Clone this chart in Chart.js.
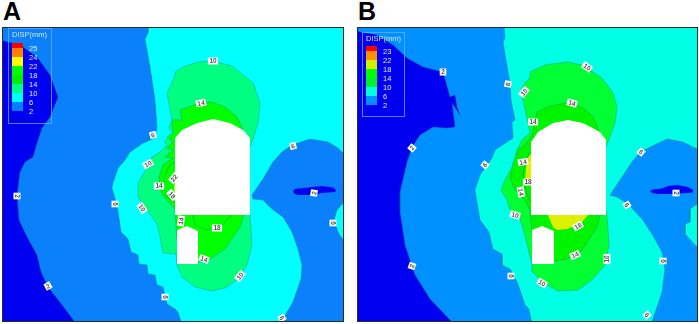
<!DOCTYPE html>
<html>
<head>
<meta charset="utf-8">
<title>DISP contours</title>
<script src="https://cdn.jsdelivr.net/npm/chart.js@4"></script>
<style>
  html, body { margin: 0; padding: 0; background: #fff; width: 699px; height: 324px; overflow: hidden; }
  .panel { position: absolute; outline: 1.5px solid #2b2b2b; }
  .letter { position: absolute; font: bold 25px "Liberation Sans", Arial, sans-serif; color: #000; line-height: 1; }
</style>
</head>
<body>
<div class="letter" style="left:3px;top:-1px">A</div>
<div class="letter" style="left:358px;top:-1px">B</div>
<canvas class="panel" id="chartA" width="340" height="293" style="left:3px;top:28px"></canvas>
<canvas class="panel" id="chartB" width="339" height="293" style="left:358px;top:28px"></canvas>
<script>
// contour outlines, [x, y] in sheet units
const a_disp2 = [[0,25],[0,40],[20,45],[37,57],[50,75],[58,97],[50,117],[42,128],[37,143],[33,157],[25,162],[20,172],[17,195],[19,220],[27,237],[37,255],[41,272],[48,287],[62,305],[74,321],[76,325],[347,325],[347,25]];
const a_disp6 = [[148,25],[148,33],[145,39],[150,67],[155,100],[157,127],[155,138],[143,143],[130,152],[125,160],[118,168],[113,183],[112,188],[117,205],[121,232],[128,239],[131,252],[138,255],[139,264],[147,265],[148,274],[155,275],[157,285],[163,287],[167,304],[175,309],[178,312],[182,325],[347,325],[347,25]];
const a_right2 = [[273,162],[282,152],[292,145],[310,139],[328,142],[338,148],[347,157],[347,203],[343,203],[337,210],[334,220],[338,232],[343,240],[347,240],[347,325],[280,325],[287,312],[293,302],[301,279],[302,265],[298,249],[292,232],[283,217],[272,209],[263,200],[253,199],[252,195],[263,179]];
const a_blob = [[293,191],[295,189],[298,188.5],[308,187.5],[322,186],[333,187.5],[336,190],[335,192],[322,193],[313,195],[298,195],[294,193.5]];
const a_disp10 = [[175,72],[183,67],[198,62],[213,61],[232,66],[253,83],[260,103],[258,123],[252,142],[248,150],[248,205],[250,215],[252,245],[247,265],[238,279],[225,288],[212,291],[195,287],[182,277],[177,265],[176,254],[163,253],[160,237],[157,224],[150,214],[147,210],[138,197],[138,183],[147,168],[152,157],[160,152],[167,145],[164,142],[173,133],[169,128],[172,120],[167,93],[175,76]];
const a_disp14 = [[180,110],[197,104],[212,102],[225,107],[237,117],[242,128],[247,150],[247,205],[244,215],[240,227],[225,249],[210,259],[198,262],[177,240],[175,209],[165,198],[160,190],[159,177],[163,165],[173,158],[165,157],[173,150],[167,148],[173,142],[167,137],[173,133],[172,120],[182,120]];
const a_disp18 = [[192,212],[195,225],[207,230],[222,225],[235,212]];
const a_left18 = [[178,160],[170,165],[165,175],[163,188],[168,198],[178,205]];
const a_left22 = [[177,178],[175,181],[174,188],[175,194],[177,194]];
const a_tunnel = [[175,215],[175,138],[182,130],[197,123],[213,119],[230,123],[243,130],[250,138],[250,215]];
const a_adit = [[177,230],[187,226],[198,231],[198,264],[177,264]];

const b_disp2 = [[355,25],[355,31],[377,35],[393,45],[407,58],[423,67],[443,72],[450,97],[455,95],[457,107],[460,115],[452,103],[455,127],[447,128],[433,127],[420,135],[412,147],[407,162],[400,192],[400,212],[405,245],[415,275],[430,299],[451,321],[455,325],[701,325],[701,25]];
const b_disp6 = [[504,25],[505,38],[503,42],[510,83],[511,100],[515,120],[512,122],[513,138],[495,150],[492,158],[480,175],[475,190],[480,220],[489,232],[493,249],[502,254],[502,265],[510,269],[518,284],[525,305],[529,309],[532,325],[701,325],[701,25]];
const b_right2 = [[632,162],[640,152],[667,139],[683,142],[701,151],[701,204],[697,204],[690,209],[690,222],[685,224],[685,234],[697,247],[701,247],[701,325],[651,325],[662,292],[665,269],[662,252],[652,234],[642,219],[628,204],[617,197],[610,195],[622,177]];
const b_blob = [[650,191],[653,189.5],[662,188.5],[668,186],[677,185],[688,187],[693,190],[693,192.5],[672,194],[658,194],[652,193]];
const b_disp10 = [[530,72],[545,65],[567,62],[582,65],[602,78],[613,93],[617,107],[615,123],[608,142],[604,150],[604,205],[607,215],[609,245],[605,265],[593,279],[578,290],[558,291],[542,282],[533,272],[532,264],[526,240],[525,235],[520,219],[510,210],[507,200],[501,190],[505,180],[515,162],[517,150],[522,140],[530,133],[523,100],[520,92],[525,83],[530,78]];
const b_disp14 = [[537,112],[550,106],[567,103],[582,107],[593,117],[598,128],[603,145],[603,205],[600,215],[597,227],[582,250],[567,259],[553,261],[533,240],[530,210],[525,200],[515,190],[510,178],[513,163],[518,150],[525,145],[532,135]];
const b_disp22 = [[547,213],[553,227],[557,230],[567,229],[580,224],[590,213]];
const b_left18 = [[533,150],[526,158],[523,175],[527,195],[533,205]];
const b_left22 = [[532,152],[528,158],[526,168],[525,182],[532,184]];
const b_tunnel = [[531,215],[531,142],[538,132],[553,123],[568,120],[583,123],[600,132],[606,140],[606,215]];
const b_adit = [[532,230],[542,226],[554,231],[554,264],[532,264]];

// contour tags: text, x, y, angle
const a_tags = [["10",213,61,0],["14",201,103,-10],["6",293,146,-15],["6",153,135,-15],["10",148,164,-30],["14",159,186,0],["22",174,178,-50],["18",172,195,50],["2",17,196,90],["6",115,204,90],["10",142,208,55],["2",48,286,-30],["6",165,297,90],["14",181,221,-80],["18",217,228,0],["14",204,259,20],["10",240,276,-50],["6",282,318,60],["2",314,193,-80],["6",333,223,90]];
const b_tags = [["2",443,72,0],["6",508,84,-80],["10",524,92,-50],["2",412,148,-50],["10",587,67,35],["14",572,103,15],["14",533,122,0],["6",641,152,40],["6",485,165,-50],["10",515,215,15],["14",521,192,80],["2",412,266,-70],["6",511,276,90],["18",528,182,0],["14",523,162,-10],["2",676,193,90],["6",627,205,60],["18",578,226,-30],["14",575,255,-25],["10",607,259,-90],["10",542,283,30],["6",663,261,90],["6",647,315,50]];

const a_legendLabels = ["25","24","22","18","14","10","6","2"];
const a_legendColors = ["#ff0000","#ff8000","#ffff00","#00ff00","#00f000","#00ff80","#00ffff","#0080ff"];
const b_legendLabels = ["23","22","18","14","10","6","2"];
const b_legendColors = ["#ff0000","#ff9000","#d0f000","#00ff00","#00ee30","#00ffe0","#0090ff"];

const LINE = "rgba(0,90,100,0.38)";

function tagsPlugin(tags) {
  return {
    id: "tags",
    afterDatasetsDraw(chart) {
      const c = chart.ctx, sx = chart.scales.x, sy = chart.scales.y;
      c.save();
      c.font = "bold 6.5px 'Liberation Sans', Arial, sans-serif";
      c.textAlign = "center";
      c.textBaseline = "middle";
      tags.forEach(t => {
        const w = c.measureText(t[0]).width + 3;
        c.save();
        c.translate(sx.getPixelForValue(t[1]), sy.getPixelForValue(t[2]));
        c.rotate(t[3] * Math.PI / 180);
        c.fillStyle = "#fff";
        c.fillRect(-w / 2, -3.5, w, 7);
        c.fillStyle = "#555";
        c.fillText(t[0], 0, 0.5);
        c.restore();
      });
      c.restore();
    }
  };
}

function legendPlugin(labels, colors, box) {
  return {
    id: "contourLegend",
    afterDraw(chart) {
      const c = chart.ctx;
      c.save();
      c.strokeStyle = "rgba(110,175,255,0.75)";
      c.lineWidth = 1;
      c.strokeRect(box.x + 0.5, box.y + 0.5, box.w, box.h);
      c.font = "7.5px 'Liberation Sans', Arial, sans-serif";
      c.fillStyle = "#d4e6ff";
      c.textBaseline = "middle";
      c.fillText("DISP(mm)", box.x + 4, box.y + 7);
      let y = box.y + box.top;
      colors.forEach((col, i) => {
        const h = i === 0 ? 5 : 9;
        c.fillStyle = col;
        c.fillRect(box.x + 4, y, 11, h);
        y += h;
        c.fillStyle = "#e4efff";
        c.fillText(labels[i], box.x + 21, y + 1);
      });
      c.restore();
    }
  };
}

function area(points, color, stroke) {
  return {
    data: points.concat([points[0]]).map(p => ({ x: p[0], y: p[1] })),
    showLine: true, fill: "shape", tension: 0, pointRadius: 0,
    backgroundColor: color,
    borderColor: stroke ? LINE : color,
    borderWidth: stroke ? 0.8 : 0
  };
}

function dibujar(id, bounds, layers, tags, legend) {
  const datasets = layers.map((d, i) => Object.assign(d, { order: layers.length - i }));
  return new Chart(document.getElementById(id), {
    type: "scatter",
    data: { datasets },
    options: {
      responsive: false, animation: false, devicePixelRatio: 1,
      layout: { padding: 0 },
      plugins: { legend: { display: false }, tooltip: { enabled: false } },
      scales: {
        x: { type: "linear", display: false, min: bounds[0], max: bounds[1] },
        y: { type: "linear", display: false, min: bounds[2], max: bounds[3], reverse: true }
      }
    },
    plugins: [
      { id: "base", beforeDatasetsDraw(chart) {
        const a = chart.chartArea;
        chart.ctx.fillStyle = "#0000f0";
        chart.ctx.fillRect(a.left, a.top, a.right - a.left, a.bottom - a.top);
      } },
      tagsPlugin(tags), legend
    ]
  });
}

dibujar("chartA", [3, 343, 28, 321], [
  area(a_disp2, "#0a80fa", true),
  area(a_disp6, "#00ffff", true),
  area(a_right2, "#0a80fa", true),
  area(a_blob, "#0000f0", false),
  area(a_disp10, "#00ff80", true),
  area(a_disp14, "#00ff00", true),
  area(a_disp18, "#00ff00", true),
  area(a_left18, "#00ff00", true),
  area(a_left22, "#ffff00", false),
  area(a_tunnel, "#ffffff", false),
  area(a_adit, "#ffffff", false)
], a_tags, legendPlugin(a_legendLabels, a_legendColors, { x: 5, y: 0, w: 43, h: 95, top: 15 }));

dibujar("chartB", [358, 697, 28, 321], [
  area(b_disp2, "#0090ff", true),
  area(b_disp6, "#00ffe4", true),
  area(b_right2, "#0090ff", true),
  area(b_blob, "#0000f0", false),
  area(b_disp10, "#00ff33", true),
  area(b_disp14, "#00f400", true),
  area(b_disp22, "#dcf000", false),
  area(b_left18, "#00f400", true),
  area(b_left22, "#dcf000", false),
  area(b_tunnel, "#ffffff", false),
  area(b_adit, "#ffffff", false)
], b_tags, legendPlugin(b_legendLabels, b_legendColors, { x: 4, y: 4, w: 42, h: 84, top: 14 }));
</script>
</body>
</html>
